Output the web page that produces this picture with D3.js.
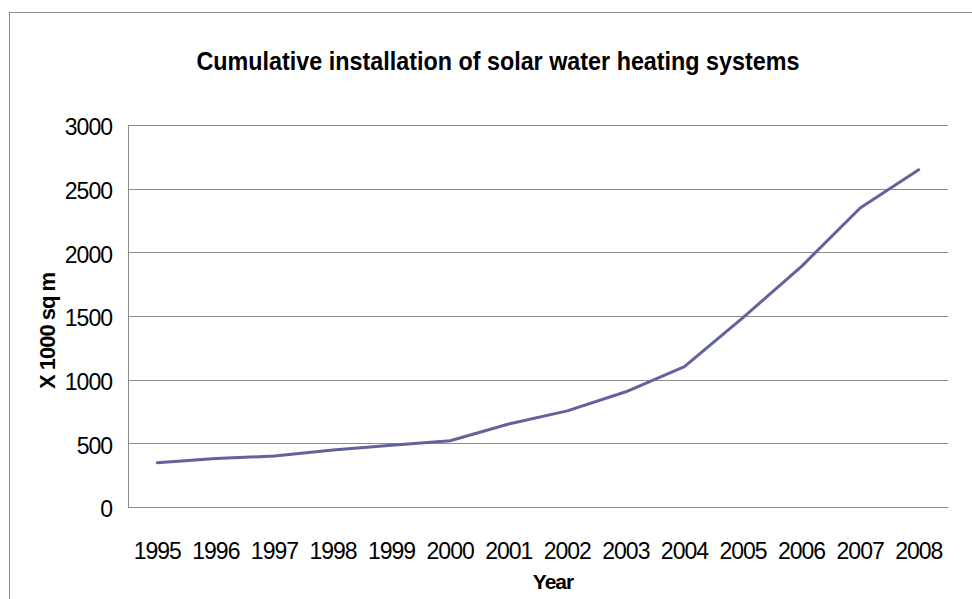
<!DOCTYPE html>
<meta charset="UTF-8">
<style>
  body { margin: 0; background: #fff; }
  text { font-family: "Liberation Sans", "DejaVu Sans", sans-serif; fill: #000; }
  .grid line { stroke: #8c8c8c; stroke-width: 1px; }
  .line { fill: none; stroke: #62629d; stroke-width: 3px; stroke-linejoin: round; stroke-linecap: round; }
</style>
<body>
<svg id="chart" width="972" height="599"></svg>
<script src="https://d3js.org/d3.v7.min.js"></script>
<script>

// data
var years = ["1995","1996","1997","1998","1999","2000","2001","2002","2003","2004","2005","2006","2007","2008"];
var installed = [348, 380, 400, 448, 485, 520, 652, 755, 905, 1102, 1488, 1890, 2348, 2648];
var yTicks = [0, 500, 1000, 1500, 2000, 2500, 3000];

var svg = d3.select("#chart");

var margin = {top: 125, right: 24, bottom: 92, left: 128},
    width = 972 - margin.left - margin.right,
    height = 599 - margin.top - margin.bottom;

// outer chart frame
svg.append("rect")
    .attr("x", 9.5).attr("y", 12.5)
    .attr("width", 980).attr("height", 620)
    .attr("fill", "none")
    .attr("stroke", "#8c8c8c");

svg.append("text")
    .attr("x", 498).attr("y", 70)
    .attr("text-anchor", "middle")
    .attr("font-size", 26)
    .attr("font-weight", "bold")
    .attr("textLength", 603)
    .attr("lengthAdjust", "spacingAndGlyphs")
    .text("Cumulative installation of solar water heating systems");

var g = svg.append("g")
    .attr("transform", "translate(" + margin.left + "," + margin.top + ")");

var x = d3.scaleBand().domain(years).range([0, width]);
var y = d3.scaleLinear().domain([0, 3000]).range([height, 0]);

// horizontal gridlines
g.append("g")
    .attr("class", "grid")
  .selectAll("line")
  .data(yTicks)
  .enter().append("line")
    .attr("x1", 0).attr("x2", width)
    .attr("y1", function(d) { return Math.round(y(d)) + 0.5; })
    .attr("y2", function(d) { return Math.round(y(d)) + 0.5; });

// y axis
var yAxis = g.append("g")
    .call(d3.axisLeft(y).tickValues(yTicks).tickFormat(d3.format("d")).tickSize(0).tickPadding(16));
yAxis.select(".domain").attr("stroke", "#8c8c8c").attr("d", "M0.5,0V" + height);
yAxis.selectAll("text")
    .attr("font-size", 23)
    .attr("letter-spacing", "-1")
    .attr("dy", "0.42em");

// x axis
var xAxis = g.append("g")
    .attr("transform", "translate(0," + height + ")")
    .call(d3.axisBottom(x).tickSize(0).tickPadding(36));
xAxis.select(".domain").attr("stroke", "#8c8c8c");
xAxis.selectAll("text")
    .attr("font-size", 23)
    .attr("letter-spacing", "-1");

// the series
var line = d3.line()
    .x(function(d, i) { return x(years[i]) + x.bandwidth() / 2; })
    .y(function(d) { return y(d); });

g.append("path")
    .datum(installed)
    .attr("class", "line")
    .attr("d", line);

// axis titles
svg.append("text")
    .attr("x", 553).attr("y", 589)
    .attr("text-anchor", "middle")
    .attr("font-size", 21)
    .attr("font-weight", "bold")
    .attr("letter-spacing", "-1")
    .text("Year");

svg.append("text")
    .attr("transform", "translate(55,331) rotate(-90)")
    .attr("text-anchor", "middle")
    .attr("font-size", 22)
    .attr("font-weight", "bold")
    .attr("letter-spacing", "-1")
    .text("X 1000 sq m");

</script>
</body>
